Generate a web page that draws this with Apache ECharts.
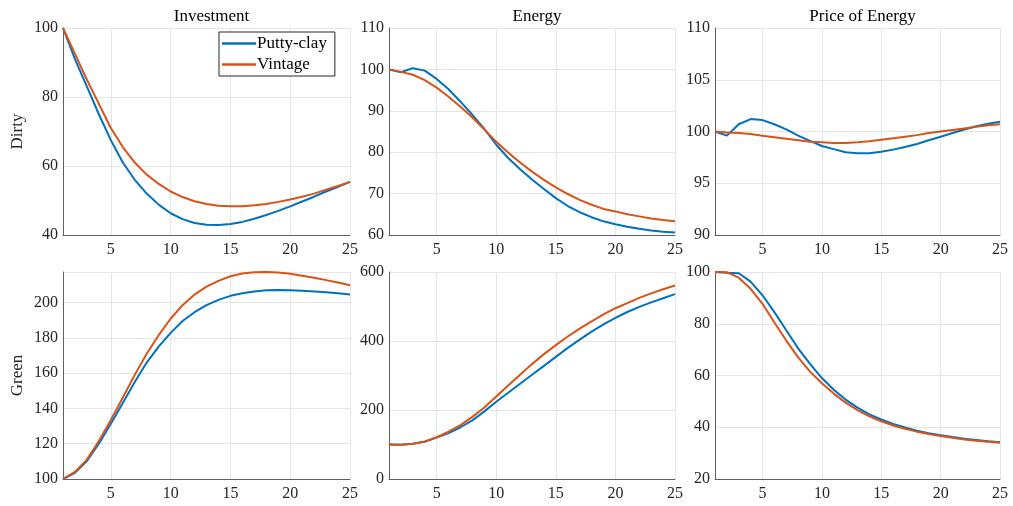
<!DOCTYPE html>
<html>
<head>
<meta charset="utf-8">
<script src="https://cdn.jsdelivr.net/npm/echarts@6/dist/echarts.min.js"></script>
<style>
  html, body { margin: 0; padding: 0; background: #fff; }
  #chart { width: 1013px; height: 506px; }
</style>
</head>
<body>
<div id="chart"></div>
<script>
// periodos 1..25
const periods = Array.from({ length: 25 }, (_, i) => String(i + 1));

const panelTitles = ["Investment", "Energy", "Price of Energy"];
const rowNames = ["Dirty", "Green"];
const seriesNames = ["Putty-clay", "Vintage"];

// fila superior: Dirty
const dirtyInvPutty = [100, 91, 83, 75, 67.5, 61, 56, 52, 48.8, 46.3, 44.6, 43.5, 43.0, 42.9, 43.2, 43.8, 44.7, 45.8, 47.0, 48.3, 49.7, 51.1, 52.6, 54.0, 55.4];
const dirtyInvVint = [100, 92.5, 85, 78, 71, 65.5, 61, 57.5, 54.8, 52.6, 51, 49.8, 49, 48.5, 48.3, 48.3, 48.6, 49.0, 49.6, 50.3, 51.1, 52.0, 53.1, 54.2, 55.4];
const dirtyEnPutty = [100, 99.3, 100.3, 99.7, 97.7, 95.2, 92.2, 89, 85.6, 81.8, 78.6, 75.9, 73.4, 71.1, 68.9, 67.0, 65.5, 64.3, 63.3, 62.6, 62.0, 61.5, 61.1, 60.8, 60.6];
const dirtyEnVint = [100, 99.4, 98.7, 97.4, 95.6, 93.4, 91, 88.4, 85.5, 82.5, 79.9, 77.5, 75.3, 73.3, 71.5, 69.9, 68.5, 67.3, 66.3, 65.7, 65.0, 64.5, 64.0, 63.6, 63.3];
const dirtyPrPutty = [100, 99.6, 100.7, 101.2, 101.1, 100.7, 100.2, 99.6, 99.1, 98.6, 98.3, 98.0, 97.9, 97.9, 98.05, 98.25, 98.5, 98.8, 99.15, 99.5, 99.85, 100.2, 100.5, 100.75, 100.95];
const dirtyPrVint = [100, 99.9, 99.85, 99.75, 99.6, 99.45, 99.3, 99.15, 99.0, 98.95, 98.9, 98.9, 98.95, 99.05, 99.2, 99.35, 99.5, 99.65, 99.85, 100.0, 100.15, 100.3, 100.45, 100.6, 100.7];

// fila inferior: Green
const greenInvPutty = [100, 103.5, 110.2, 120, 131.3, 143, 155, 166, 175, 182.8, 189.5, 194.5, 198.5, 201.5, 203.8, 205.3, 206.3, 206.9, 207.1, 207.0, 206.7, 206.3, 205.8, 205.2, 204.6];
const greenInvVint = [100, 104, 111, 121.5, 133.5, 146, 159, 171, 181.5, 190.8, 198.5, 204.5, 209, 212.3, 214.9, 216.4, 217.1, 217.3, 217.0, 216.3, 215.2, 214.0, 212.7, 211.3, 209.8];
const greenEnPutty = [100, 99, 102, 108, 120, 133, 150, 170, 196, 224, 250, 276, 302, 328, 354, 380, 404, 427, 448, 467, 484, 499, 512, 524, 536];
const greenEnVint = [100, 99, 102, 109, 121, 137, 156, 180, 207, 239, 271, 302, 333, 362, 388, 413, 436, 457, 477, 495, 510, 525, 538, 550, 561];
const greenPrPutty = [100, 99.7, 99.5, 96.3, 91, 84.5, 77.5, 70.5, 64.5, 59, 54.5, 50.7, 47.6, 45.0, 43.0, 41.3, 39.9, 38.7, 37.7, 36.9, 36.2, 35.6, 35.1, 34.6, 34.2];
const greenPrVint = [100, 99.9, 97.8, 93.5, 87.7, 80.5, 73.5, 67, 61.5, 57, 53, 49.5, 46.6, 44.2, 42.3, 40.7, 39.4, 38.3, 37.4, 36.6, 35.9, 35.3, 34.8, 34.4, 34.0];

const panelData = [
  [dirtyInvPutty, dirtyInvVint], [dirtyEnPutty, dirtyEnVint], [dirtyPrPutty, dirtyPrVint],
  [greenInvPutty, greenInvVint], [greenEnPutty, greenEnVint], [greenPrPutty, greenPrVint]
];

// limites de ejes y: [min, max, intervalo]
const yRanges = [[40, 100, 20], [60, 110, 10], [90, 110, 5], [100, 217.3, 20], [0, 600, 200], [20, 100, 20]];

const colors = ["#0072BD", "#D95319"];
const font = "'Liberation Serif', 'DejaVu Serif', serif";
const lefts = [63, 389, 715];
const widths = [287, 286, 285];
const tops = [28, 272];
const gridH = 207;

const grids = [], xAxes = [], yAxes = [], series = [], titles = [];

for (let p = 0; p < 6; p++) {
  const row = Math.floor(p / 3), col = p % 3;
  grids.push({ left: lefts[col], top: tops[row], width: widths[col], height: gridH });
  const every5 = (idx) => (idx + 1) % 5 === 0;
  xAxes.push({
    type: "category", gridIndex: p, data: periods, boundaryGap: false,
    axisLine: { lineStyle: { color: "#606060", width: 1 } },
    axisTick: { show: false },
    axisLabel: { interval: every5, color: "#262626", fontFamily: font, fontSize: 16, margin: 7 },
    splitLine: { show: true, interval: every5, lineStyle: { color: "#e5e5e5", width: 1 } }
  });
  const [mn, mx, iv] = yRanges[p];
  yAxes.push({
    type: "value", gridIndex: p, min: mn, max: mx, interval: iv,
    name: col === 0 ? rowNames[row] : "",
    nameLocation: "middle", nameGap: 37, nameRotate: 90,
    nameTextStyle: { fontFamily: font, fontSize: 17, color: "#262626" },
    axisLine: { show: true, lineStyle: { color: "#606060", width: 1 } },
    axisTick: { show: false },
    axisLabel: { color: "#262626", fontFamily: font, fontSize: 16, margin: 5, showMaxLabel: p !== 3 },
    splitLine: { show: true, lineStyle: { color: "#e5e5e5", width: 1 } }
  });
  for (let s = 0; s < 2; s++) {
    series.push({
      name: seriesNames[s], type: "line", xAxisIndex: p, yAxisIndex: p,
      data: panelData[p][s], symbol: "none", smooth: false,
      lineStyle: { color: colors[s], width: 2 }, itemStyle: { color: colors[s] },
      animation: false
    });
  }
  if (row === 0) {
    titles.push({
      text: panelTitles[col], left: lefts[col] + widths[col] / 2, top: 3, textAlign: "center",
      textStyle: { fontFamily: font, fontSize: 17, fontWeight: "normal", color: "#000" }
    });
  }
}

const chart = echarts.init(document.getElementById("chart"));
chart.setOption({
  backgroundColor: "#fff",
  animation: false,
  title: titles,
  grid: grids,
  xAxis: xAxes,
  yAxis: yAxes,
  legend: {
    data: seriesNames, orient: "vertical", left: 219, top: 32,
    icon: "rect", itemWidth: 34, itemHeight: 2.5, itemGap: 4,
    backgroundColor: "#fff", borderColor: "#262626", borderWidth: 1,
    padding: [3, 8, 3, 3],
    textStyle: { fontFamily: font, fontSize: 17, color: "#000", padding: [0, 0, 0, -4] }
  },
  series: series
});
</script>
</body>
</html>
